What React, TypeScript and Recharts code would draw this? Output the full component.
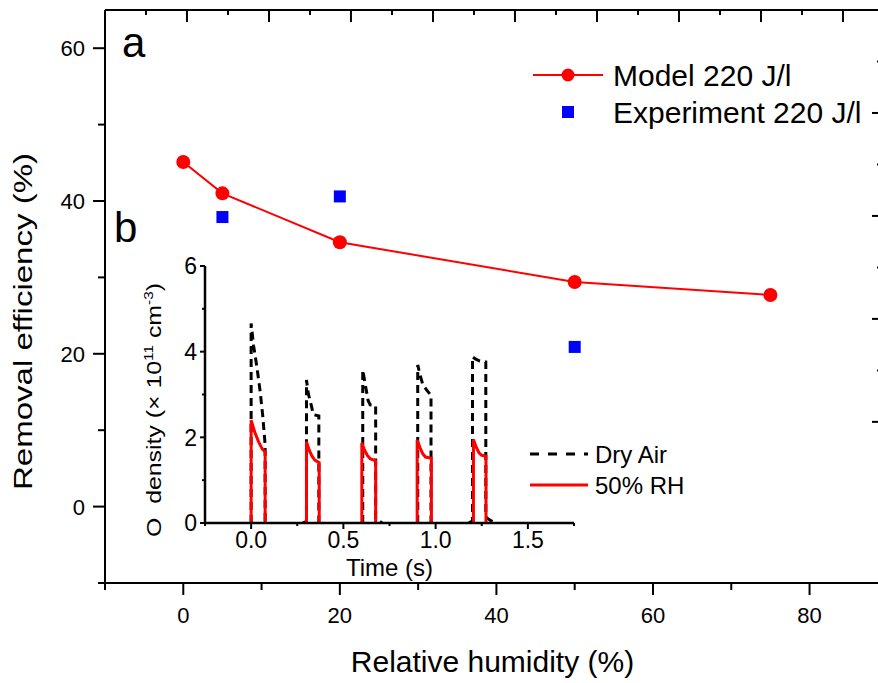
import React from "react";
import {
  ComposedChart,
  LineChart,
  Line,
  Scatter,
  XAxis,
  YAxis,
  Legend,
  Label,
  ReferenceLine,
} from "recharts";

const FONT = "'Liberation Sans', Arial, Helvetica, sans-serif";

// (a) removal efficiency vs relative humidity
const rhLevels = [0, 5, 20, 50, 75];
const modelEfficiency = [45.1, 41.0, 34.6, 29.4, 27.7];
const expRh = [5, 20, 50];
const expEfficiency = [37.9, 40.6, 20.9];

const rhTicks = [-10, 0, 10, 20, 30, 40, 50, 60, 70, 80];
const rhMajor = [0, 20, 40, 60, 80];
const effTicks = [-10, 0, 10, 20, 30, 40, 50, 60];
const effMajor = [0, 20, 40, 60];
// inward ticks on the top frame, in RH units
const topTicks = [
  -4.76, 0.47, 5.71, 10.95, 16.19, 21.42, 26.66, 31.9, 37.14,
  42.37, 47.61, 52.85, 58.09, 63.32, 68.56, 73.8, 79.04, 84.27,
];
const topMajor = [0.47, 10.95, 21.42, 31.9, 42.37, 52.85, 63.32, 73.8, 84.27];
const rightTicks = [1, 2, 3, 4, 5, 6, 7, 8];
const rightMajor = [2, 4, 6, 8];

// (b) O density pulses, null splits the trace between pulses
const dryTime = [
  0, 0, 0.013, 0.031, 0.049, 0.063, 0.076, 0.076, 0.18,
  0.28, 0.3, 0.3, 0.31, 0.328, 0.337, 0.367, 0.367, 0.48,
  0.605, 0.605, 0.62, 0.634, 0.645, 0.675, 0.675, 0.69, 0.71, 0.8,
  0.903, 0.903, 0.915, 0.93, 0.952, 0.975, 0.975, 1.1,
  1.18, 1.2, 1.2, 1.215, 1.24, 1.272, 1.272, 1.29, 1.32,
];
const dryDensity = [
  0, 4.66, 4.15, 3.65, 3.07, 2.5, 1.82, 0, null,
  0, 0.04, 3.34, 3.02, 2.71, 2.53, 2.5, 0, null,
  0, 3.57, 3.2, 2.86, 2.76, 2.74, 0.12, 0.06, 0, null,
  0, 3.69, 3.47, 3.24, 3.1, 2.98, 0, null,
  0, 0.05, 3.88, 3.83, 3.78, 3.76, 0.14, 0.08, 0,
];
const humidTime = [
  0, 0, 0.02, 0.04, 0.06, 0.076, 0.076, 0.18,
  0.3, 0.3, 0.315, 0.33, 0.345, 0.369, 0.369, 0.48,
  0.6, 0.6, 0.615, 0.63, 0.645, 0.675, 0.675, 0.8,
  0.9, 0.9, 0.915, 0.93, 0.945, 0.977, 0.977, 1.1,
  1.205, 1.205, 1.22, 1.235, 1.25, 1.273, 1.273,
];
const humidDensity = [
  0, 2.4, 2.12, 1.9, 1.73, 1.66, 0, null,
  0, 1.9, 1.7, 1.56, 1.47, 1.41, 0, null,
  0, 1.87, 1.7, 1.58, 1.5, 1.45, 0, null,
  0, 1.94, 1.76, 1.62, 1.54, 1.51, 0, null,
  0, 1.95, 1.77, 1.64, 1.58, 1.56, 0,
];

const timeTicks = [-0.25, 0, 0.25, 0.5, 0.75, 1, 1.25, 1.5, 1.75];
const timeMajor = [0, 0.5, 1, 1.5];
const densityTicks = [0, 1, 2, 3, 4, 5, 6];
const densityMajor = [0, 2, 4, 6];

const modelData = rhLevels.map((rh, i) => ({ rh, eff: modelEfficiency[i] }));
const expData = expRh.map((rh, i) => ({ rh, eff: expEfficiency[i] }));
const dryData = dryTime.map((t, i) => ({ t, v: dryDensity[i] }));
const humidData = humidTime.map((t, i) => ({ t, v: humidDensity[i] }));

const EFF_MAX = 65;
const EFF_PER_PX = 75 / 573;

type Side = "left" | "bottom" | "rightIn";

// tick line + label drawn from the axis position (tickSize/tickMargin are 0)
function axisTick(
  side: Side,
  majors: number[],
  majorLen: number,
  minorLen: number,
  fontSize = 22,
  labelOffset = 0,
  format: (v: number) => string = (v) => String(v)
) {
  return (props: any) => {
    const { x, y, payload } = props;
    const v = payload.value;
    const isMajor = majors.some((m) => Math.abs(m - v) < 1e-9);
    const len = isMajor ? majorLen : minorLen;
    const line = { stroke: "#000", strokeWidth: 2 };
    if (side === "left") {
      return (
        <g>
          <line x1={x} y1={y} x2={x - len} y2={y} {...line} />
          {isMajor && (
            <text x={x - labelOffset} y={y + fontSize * 0.36} textAnchor="end" fontSize={fontSize} fontFamily={FONT} fill="#000">
              {format(v)}
            </text>
          )}
        </g>
      );
    }
    if (side === "bottom") {
      return (
        <g>
          <line x1={x} y1={y} x2={x} y2={y + len} {...line} />
          {isMajor && (
            <text x={x} y={y + labelOffset} textAnchor="middle" fontSize={fontSize} fontFamily={FONT} fill="#000">
              {format(v)}
            </text>
          )}
        </g>
      );
    }
    return <line x1={x} y1={y} x2={x - len} y2={y} {...line} />;
  };
}

const axisLine = { stroke: "#000", strokeWidth: 2 };

const MainLegend = () => (
  <svg width={345} height={80}>
    <line x1={0} y1={20} x2={70} y2={20} stroke="#ff0000" strokeWidth={2} />
    <circle cx={35} cy={20} r={6.5} fill="#ff0000" />
    <text x={80} y={30.5} fontSize={30} fontFamily={FONT} fill="#000">Model 220 J/l</text>
    <rect x={29} y={51} width={12} height={12} fill="#0000ff" />
    <text x={80} y={68} fontSize={30} fontFamily={FONT} fill="#000">Experiment 220 J/l</text>
  </svg>
);

const InsetLegend = () => (
  <svg width={170} height={70}>
    <line x1={0} y1={19} x2={58} y2={19} stroke="#000" strokeWidth={3} strokeDasharray="9 9" />
    <text x={65} y={27.5} fontSize={24} fontFamily={FONT} fill="#000">Dry Air</text>
    <line x1={0} y1={50} x2={58} y2={50} stroke="#ff0000" strokeWidth={3} />
    <text x={65} y={58.5} fontSize={24} fontFamily={FONT} fill="#000">50% RH</text>
  </svg>
);

export default function App() {
  return (
    <div
      style={{
        position: "fixed",
        left: 0,
        top: 0,
        width: 878,
        height: 683,
        overflow: "hidden",
        background: "#fff",
        fontFamily: FONT,
      }}
    >
      <div style={{ position: "absolute", left: 0, top: 0 }}>
        <ComposedChart width={900} height={683} data={modelData} margin={{ top: 9, right: 19, bottom: 0, left: 0 }}>
          <XAxis
            dataKey="rh"
            type="number"
            domain={[-10, 89]}
            allowDataOverflow
            ticks={rhTicks}
            interval={0}
            height={100}
            tickSize={0}
            tickMargin={0}
            tickLine={false}
            axisLine={axisLine}
            tick={axisTick("bottom", rhMajor, 12, 7, 22, 40)}
          >
            <Label
              content={(p: any) => {
                const vb = p.viewBox;
                return (
                  <text x={vb.x + vb.width / 2} y={vb.y + 89} textAnchor="middle" fontSize={30} fontFamily={FONT} fill="#000">
                    Relative humidity (%)
                  </text>
                );
              }}
            />
          </XAxis>
          <XAxis
            xAxisId="top"
            orientation="top"
            type="number"
            height={1}
            tick={false}
            tickLine={false}
            axisLine={axisLine}
          />
          <YAxis
            type="number"
            domain={[-10, EFF_MAX]}
            allowDataOverflow
            ticks={effTicks}
            interval={0}
            width={105}
            tickSize={0}
            tickMargin={0}
            tickLine={false}
            axisLine={axisLine}
            tick={axisTick("left", effMajor, 12, 7, 22, 20)}
          >
            <Label
              content={(p: any) => {
                const vb = p.viewBox;
                const cy = vb.y + vb.height / 2 + 25;
                return (
                  <text
                    transform={`translate(${vb.x + 32},${cy}) rotate(-90)`}
                    textAnchor="middle"
                    fontSize={25}
                    textLength={337}
                    lengthAdjust="spacingAndGlyphs"
                    fontFamily={FONT}
                    fill="#000"
                  >
                    Removal efficiency (%)
                  </text>
                );
              }}
            />
          </YAxis>
          <YAxis
            yAxisId="r"
            orientation="right"
            type="number"
            domain={[0, 11.13]}
            reversed
            allowDataOverflow
            ticks={rightTicks}
            interval={0}
            width={1}
            tickSize={0}
            tickMargin={0}
            tickLine={false}
            axisLine={axisLine}
            tick={axisTick("rightIn", rightMajor, 8, 3)}
          />
          {topTicks.map((t) => {
            const len = topMajor.includes(t) ? 12 : 5;
            return (
              <ReferenceLine
                key={t}
                segment={[
                  { x: t, y: EFF_MAX },
                  { x: t, y: EFF_MAX - len * EFF_PER_PX },
                ]}
                stroke="#000"
                strokeWidth={2}
              />
            );
          })}
          <Line
            dataKey="eff"
            stroke="#ff0000"
            strokeWidth={2}
            dot={{ r: 7, fill: "#ff0000", stroke: "none" }}
            isAnimationActive={false}
          />
          <Scatter
            data={expData}
            dataKey="eff"
            isAnimationActive={false}
            shape={(p: any) => <rect x={p.cx - 6} y={p.cy - 6} width={12} height={12} fill="#0000ff" />}
          />
          <Legend
            layout="vertical"
            align="center"
            verticalAlign="middle"
            wrapperStyle={{ left: 533, top: 55, width: 345, height: 80 }}
            content={() => <MainLegend />}
          />
        </ComposedChart>
      </div>

      <div style={{ position: "absolute", left: 140, top: 250 }}>
        <LineChart width={450} height={333} margin={{ top: 16, right: 16, bottom: 0, left: 0 }}>
          <XAxis
            dataKey="t"
            type="number"
            domain={[-0.25, 1.75]}
            allowDataOverflow
            ticks={timeTicks}
            interval={0}
            height={60}
            tickSize={0}
            tickMargin={0}
            tickLine={false}
            axisLine={{ stroke: "#000", strokeWidth: 2.5 }}
            tick={axisTick("bottom", timeMajor, 6, 3, 23, 25, (v) => v.toFixed(1))}
          >
            <Label
              content={(p: any) => {
                const vb = p.viewBox;
                return (
                  <text x={vb.x + vb.width / 2} y={vb.y + 52.5} textAnchor="middle" fontSize={24} fontFamily={FONT} fill="#000">
                    Time (s)
                  </text>
                );
              }}
            />
          </XAxis>
          <YAxis
            type="number"
            domain={[0, 6]}
            allowDataOverflow
            ticks={densityTicks}
            interval={0}
            width={65}
            tickSize={0}
            tickMargin={0}
            tickLine={false}
            axisLine={{ stroke: "#000", strokeWidth: 2.5 }}
            tick={axisTick("left", densityMajor, 5, 3, 23, 8)}
          >
            <Label
              content={(p: any) => {
                const vb = p.viewBox;
                const cy = vb.y + vb.height / 2 + 15.5;
                return (
                  <text
                    transform={`translate(${vb.x + 21},${cy}) rotate(-90)`}
                    textAnchor="middle"
                    fontSize={21}
                    textLength={254}
                    lengthAdjust="spacingAndGlyphs"
                    fontFamily={FONT}
                    fill="#000"
                  >
                    O{"\u00a0\u00a0"}density (× 10
                    <tspan dy={-8} fontSize={13}>11</tspan>
                    <tspan dy={8}> cm</tspan>
                    <tspan dy={-8} fontSize={13}>-3</tspan>
                    <tspan dy={8}>)</tspan>
                  </text>
                );
              }}
            />
          </YAxis>
          <Line
            data={dryData}
            dataKey="v"
            stroke="#000"
            strokeWidth={3}
            strokeDasharray="8 5"
            dot={false}
            isAnimationActive={false}
          />
          <Line
            data={humidData}
            dataKey="v"
            stroke="#ff0000"
            strokeWidth={3}
            dot={false}
            isAnimationActive={false}
          />
          <Legend
            layout="vertical"
            align="center"
            verticalAlign="middle"
            wrapperStyle={{ left: 390, top: 185, width: 170, height: 70 }}
            content={() => <InsetLegend />}
          />
        </LineChart>
      </div>

      <svg width={878} height={683} style={{ position: "absolute", left: 0, top: 0, pointerEvents: "none" }}>
        <text x={122} y={57} fontSize={42} fontFamily={FONT} fill="#000">a</text>
        <text x={114} y={242} fontSize={42} fontFamily={FONT} fill="#000">b</text>
      </svg>
    </div>
  );
}
